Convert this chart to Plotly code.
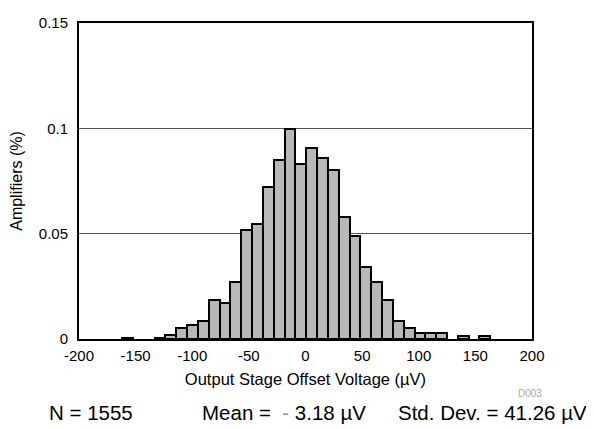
import plotly.graph_objects as go

bin_centers = [-157.2, -128.5, -119.0, -109.4, -99.8, -90.3, -80.7, -71.1, -61.6,
               -52.0, -42.4, -32.9, -23.3, -13.7, -4.2, 5.4, 15.0, 24.5, 34.1,
               43.7, 53.2, 62.8, 72.4, 81.9, 91.5, 101.1, 110.6, 120.2, 139.3, 158.4]
amplifiers = [0.0007, 0.0007, 0.0019, 0.0053, 0.0065, 0.0085, 0.0187, 0.0173, 0.0270,
              0.0516, 0.0546, 0.0723, 0.0852, 0.0996, 0.0829, 0.0907, 0.0861, 0.0804,
              0.0579, 0.0490, 0.0342, 0.0270, 0.0185, 0.0085, 0.0051, 0.0028, 0.0028,
              0.0028, 0.0013, 0.0013]
bin_width = 9.565

x_ticks = [-200, -150, -100, -50, 0, 50, 100, 150, 200]
x_tick_labels = ["-200", "-150", "-100", "-50", "0", "50", "100", "150", "200"]
y_ticks = [0, 0.05, 0.1, 0.15]
y_tick_labels = ["0", "0.05", "0.1", "0.15"]

FONT = "Liberation Sans, Arial, Helvetica, sans-serif"

# the page body has an 8px margin, so the figure is offset by (8, 8)
fig = go.Figure()
fig.add_trace(go.Bar(
    x=bin_centers, y=amplifiers, width=bin_width,
    marker=dict(color="#b8b8b8", line=dict(color="black", width=2)),
))

fig.update_layout(
    width=586, height=421,
    margin=dict(l=64, r=62, t=6, b=90),
    paper_bgcolor="white", plot_bgcolor="white",
    showlegend=False,
    font=dict(family=FONT, color="black", size=15),
    xaxis=dict(
        range=[-200, 200], tickvals=x_ticks, ticktext=x_tick_labels,
        showgrid=False, zeroline=False,
        showline=True, linecolor="black", linewidth=2, mirror=True,
        ticks="", tickfont=dict(size=15), ticklabelstandoff=2,
        ticklabeloverflow="allow",
        title=dict(text="Output Stage Offset Voltage (µV)", font=dict(size=16.5), standoff=10),
    ),
    yaxis=dict(
        range=[0, 0.15], tickvals=y_ticks, ticktext=y_tick_labels,
        showgrid=True, gridcolor="#555555", gridwidth=1, zeroline=False,
        showline=True, linecolor="black", linewidth=2, mirror=True,
        ticks="", tickfont=dict(size=15), ticklabelstandoff=6,
        ticklabeloverflow="allow",
        title=dict(text="Amplifiers (%)", font=dict(size=16), standoff=14),
    ),
    bargap=0,
)

fig.add_annotation(text="D003", xref="paper", yref="paper", x=0.995, y=-0.172,
                   showarrow=False, font=dict(size=10, color="#aaaaaa"),
                   xanchor="center", yanchor="middle")
fig.add_annotation(text="N = 1555", xref="paper", yref="paper", x=-0.07, y=-0.233,
                   showarrow=False, font=dict(size=20.5), xanchor="left", yanchor="middle")
fig.add_annotation(text="Mean =  <span style='color:#999999'>-</span> 3.18 µV",
                   xref="paper", yref="paper", x=0.267, y=-0.233,
                   showarrow=False, font=dict(size=20.5), xanchor="left", yanchor="middle")
fig.add_annotation(text="Std. Dev. = 41.26 µV", xref="paper", yref="paper", x=1.126, y=-0.233,
                   showarrow=False, font=dict(size=20.5), xanchor="right", yanchor="middle")

fig.write_html("out.html")
